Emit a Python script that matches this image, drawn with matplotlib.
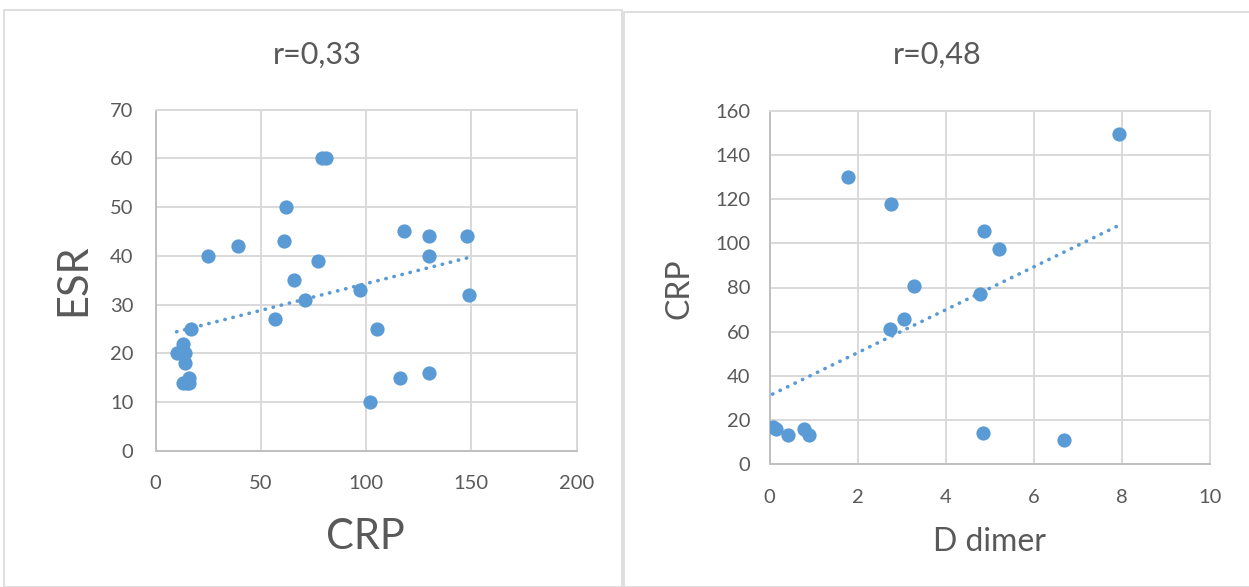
"""Two Excel-style scatter panels with dotted linear trend lines."""

import matplotlib

matplotlib.use("Agg")
import matplotlib.pyplot as plt
import numpy as np
from matplotlib.patches import Rectangle

W, H = 1249, 587
DOT_COLOR = "#5b9bd5"
TEXT_COLOR = "#595959"
GRID_COLOR = "#d9d9d9"
AXIS_COLOR = "#bfbfbf"

plt.rcParams["font.family"] = ["Lato", "DejaVu Sans"]

# left panel: CRP vs ESR
crp_left = [79, 81, 62, 61, 39, 25, 77, 66, 71, 57, 17, 13, 10, 14, 14, 16, 13, 15,
            16, 118, 130, 148, 130, 97, 149, 105, 116, 130, 102]
esr = [60, 60, 50, 43, 42, 40, 39, 35, 31, 27, 25, 22, 20, 20, 18, 15, 14, 14,
       14, 45, 44, 44, 40, 33, 32, 25, 15, 16, 10]

# right panel: D dimer vs CRP
d_dimer = [1.78, 2.75, 4.87, 3.27, 4.79, 3.05, 2.74, 0.07, 0.15, 0.43, 0.78, 0.90,
           4.84, 7.93, 5.22, 6.68]
crp_right = [130, 118, 105.5, 80.7, 77, 65.7, 61, 17, 16, 13.3, 16, 13.3,
             14, 149.5, 97.3, 11]

left_title = "r=0,33"
right_title = "r=0,48"


def px_rect(x0, y_top, x1, y_bottom):
    """Figure-fraction [left, bottom, width, height] from pixel box."""
    return [x0 / W, (H - y_bottom) / H, (x1 - x0) / W, (y_bottom - y_top) / H]


def style_axes(ax, xlim, xstep, ylim, ystep, xpad, ypad):
    ax.set_xlim(*xlim)
    ax.set_ylim(*ylim)
    ax.set_xticks(np.arange(xlim[0], xlim[1] + xstep / 2, xstep))
    ax.set_yticks(np.arange(ylim[0], ylim[1] + ystep / 2, ystep))
    ax.grid(True, color=GRID_COLOR, linewidth=1.4)
    ax.set_axisbelow(True)
    for side in ("top", "right"):
        ax.spines[side].set_color(GRID_COLOR)
        ax.spines[side].set_linewidth(1.4)
    for side in ("left", "bottom"):
        ax.spines[side].set_color(AXIS_COLOR)
        ax.spines[side].set_linewidth(1.4)
    ax.tick_params(length=0, labelsize=14.5, labelcolor=TEXT_COLOR)
    ax.tick_params(axis="x", pad=xpad)
    ax.tick_params(axis="y", pad=ypad)


def scatter_with_trend(ax, x, y):
    x = np.asarray(x, dtype=float)
    y = np.asarray(y, dtype=float)
    ax.scatter(x, y, s=105, color=DOT_COLOR, linewidths=0, zorder=3)
    slope, intercept = np.polyfit(x, y, 1)
    xs = np.array([x.min(), x.max()])
    ax.plot(xs, slope * xs + intercept, color=DOT_COLOR, linewidth=2.6,
            linestyle=(0, (0.1, 2.2)), dash_capstyle="round", zorder=4)


fig = plt.figure(figsize=(W / 100, H / 100), dpi=100)

# chart frames
for x0, y0, x1 in ((4, 10, 622), (624, 12, 1252)):
    fig.patches.append(Rectangle((x0 / W, 0), (x1 - x0) / W, (H - y0) / H,
                                 transform=fig.transFigure, fill=False,
                                 edgecolor=GRID_COLOR, linewidth=1.2))

ax1 = fig.add_axes(px_rect(155.5, 109.5, 576.5, 451))
style_axes(ax1, (0, 200), 50, (0, 70), 10, xpad=17, ypad=16)
scatter_with_trend(ax1, crp_left, esr)

ax2 = fig.add_axes(px_rect(769.5, 110.7, 1210, 464.3))
style_axes(ax2, (0, 10), 2, (0, 160), 20, xpad=18, ypad=14)
scatter_with_trend(ax2, d_dimer, crp_right)

# titles and axis labels
fig.text(317 / W, 1 - 55 / H, left_title, ha="center", va="center",
         fontsize=22, color=TEXT_COLOR)
fig.text(937 / W, 1 - 55 / H, right_title, ha="center", va="center",
         fontsize=22, color=TEXT_COLOR)
fig.text(73 / W, 1 - 280 / H, "ESR", ha="center", va="center", rotation=90,
         fontsize=30, color=TEXT_COLOR)
fig.text(365 / W, 1 - 537 / H, "CRP", ha="center", va="center",
         fontsize=30, color=TEXT_COLOR)
fig.text(680 / W, 1 - 289 / H, "CRP", ha="center", va="center", rotation=90,
         fontsize=23, color=TEXT_COLOR)
fig.text(990 / W, 1 - 542 / H, "D dimer", ha="center", va="center",
         fontsize=23, color=TEXT_COLOR)

fig.savefig("out.png", dpi=100)
